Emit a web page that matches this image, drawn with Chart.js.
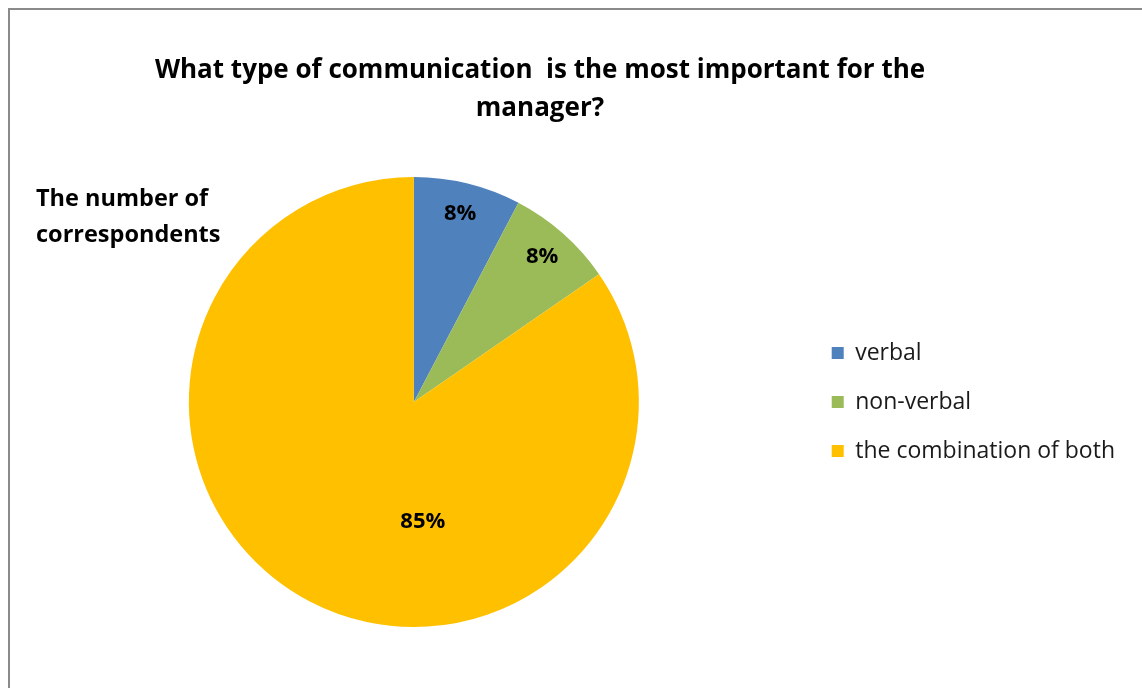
<!DOCTYPE html>
<html>
<head>
<meta charset="utf-8">
<script src="https://cdn.jsdelivr.net/npm/chart.js@4/dist/chart.umd.min.js"></script>
<style>
  html, body { margin: 0; padding: 0; background: #fff; overflow: hidden; }
  body { width: 1142px; height: 688px; position: relative; font-family: "Open Sans", Lato, sans-serif; }
  .frame { position: absolute; left: 8px; top: 8px; width: 1200px; height: 760px; border-left: 2px solid #8a8a8a; border-top: 2px solid #8a8a8a; }
  .title { position: absolute; left: 0; top: 49px; width: 1080px; text-align: center; font-weight: bold; font-size: 26px; line-height: 38px; color: #000; white-space: pre; }
  .side { position: absolute; left: 36px; top: 179px; font-weight: bold; font-size: 23.5px; line-height: 36px; color: #000; }
  #wrap { position: absolute; left: 0; top: 0; width: 1142px; height: 688px; }
</style>
</head>
<body>
<div class="frame"></div>
<div id="wrap"><canvas id="commChart"></canvas></div>
<div class="title">What type of communication  is the most important for the
manager?</div>
<div class="side">The number of<br>correspondents</div>
<script>
// answers per communication type
const categories = ['verbal', 'non-verbal', 'the combination of both'];
const respondents = [1, 1, 11];
const sliceColors = ['#4F81BD', '#9BBB59', '#FFC000'];

// percentage labels drawn inside each slice
const sliceLabels = {
    id: 'sliceLabels',
    afterDatasetsDraw(chart, args, opts) {
        const ctx = chart.ctx;
        const meta = chart.getDatasetMeta(0);
        const values = chart.data.datasets[0].data;
        const total = values.reduce((a, b) => a + b, 0);
        ctx.save();
        ctx.font = 'bold 22px "Open Sans", sans-serif';
        ctx.fillStyle = '#000';
        ctx.textAlign = 'center';
        ctx.textBaseline = 'middle';
        meta.data.forEach((arc, i) => {
            const p = arc.getProps(['x', 'y', 'startAngle', 'endAngle', 'outerRadius'], true);
            const place = opts.place[i];
            const a = (p.startAngle + p.endAngle) / 2 + place.shift;
            const r = p.outerRadius * place.r;
            const pct = Math.round(values[i] / total * 100) + '%';
            ctx.fillText(pct, p.x + Math.cos(a) * r, p.y + Math.sin(a) * r);
        });
        ctx.restore();
    }
};

document.addEventListener('DOMContentLoaded', function() {
    const ctx = document.getElementById('commChart').getContext('2d');

    new Chart(ctx, {
        type: 'pie',
        data: {
            labels: categories,
            datasets: [{
                data: respondents,
                backgroundColor: sliceColors,
                borderWidth: 0
            }]
        },
        options: {
            responsive: true,
            maintainAspectRatio: false,
            animation: false,
            layout: {
                padding: { top: 177, bottom: 61, left: 22, right: 17 }
            },
            plugins: {
                legend: {
                    position: 'right',
                    labels: {
                        color: '#1a1a1a',
                        font: { family: '"Open Sans", sans-serif', size: 23 },
                        boxWidth: 12,
                        boxHeight: 12,
                        padding: 26
                    }
                },
                tooltip: { enabled: false },
                sliceLabels: {
                    place: [
                        { r: 0.86, shift: 0 },
                        { r: 0.86, shift: 0 },
                        { r: 0.535, shift: -0.558 }
                    ]
                }
            }
        },
        plugins: [sliceLabels]
    });
});
</script>
</body>
</html>
